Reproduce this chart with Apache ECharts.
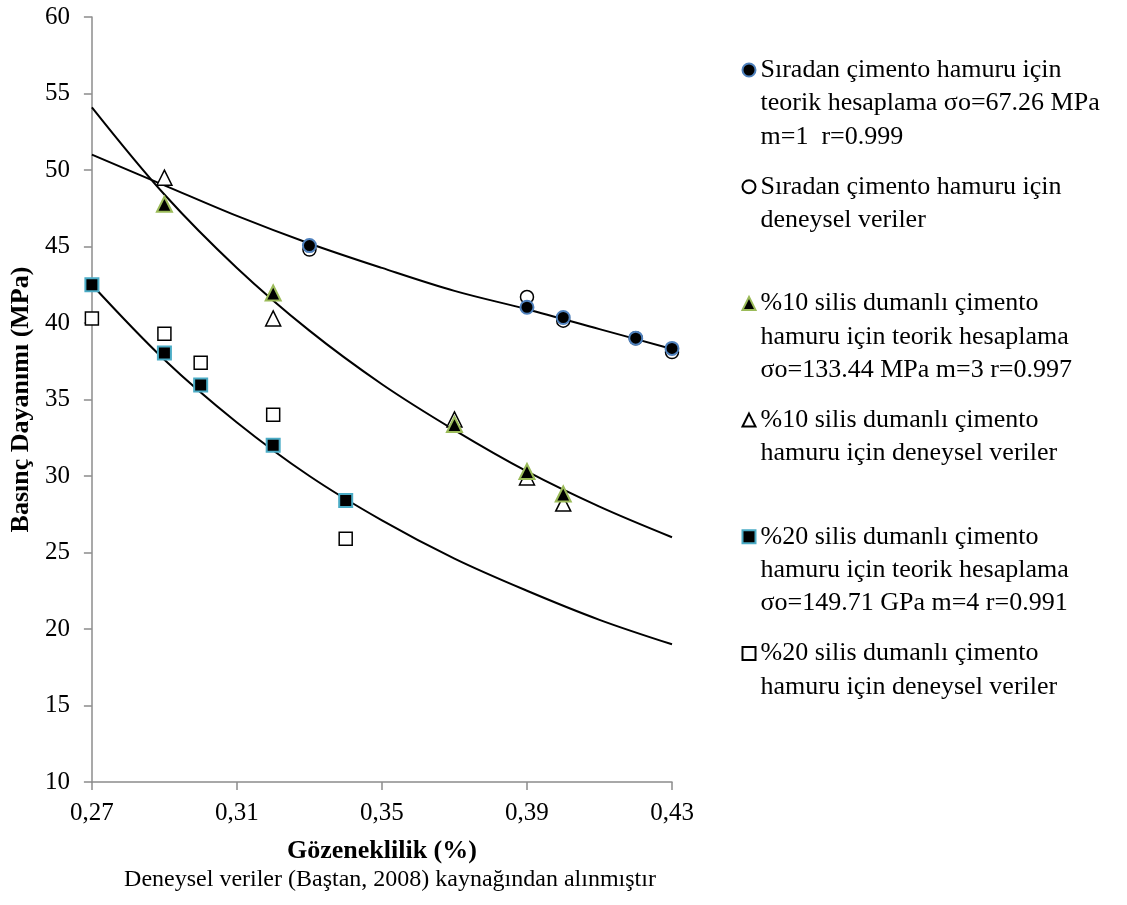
<!DOCTYPE html>
<html>
<head>
<meta charset="utf-8">
<script src="https://cdn.jsdelivr.net/npm/echarts@6/dist/echarts.min.js"></script>
<style>
  html, body { margin: 0; padding: 0; background: #fff; }
  #chart { width: 1127px; height: 905px; }
</style>
</head>
<body>
<div id="chart"></div>
<script>
// Porosity (x) tick labels and strength axis range
const xTicks = [0.27, 0.31, 0.35, 0.39, 0.43];
const yRange = [10, 60, 5];

// Plain cement paste: theoretical and experimental points
const plainX = [0.33, 0.39, 0.40, 0.42, 0.43];
const plainTheory = [45.06, 41.03, 40.36, 39.01, 38.34];
const plainExp = [44.8, 41.7, 40.15, 39.0, 38.1];

// 10% silica fume paste
const sf10X = [0.29, 0.32, 0.37, 0.39, 0.40];
const sf10Theory = [47.76, 41.96, 33.37, 30.29, 28.82];
const sf10Exp = [49.5, 40.3, 33.7, 29.9, 28.2];

// 20% silica fume paste
const sf20X = [0.27, 0.29, 0.30, 0.32, 0.34];
const sf20Theory = [42.5, 38.04, 35.94, 32.01, 28.40];
const sf20Exp = [40.3, 39.3, 37.4, 34.0, 25.9];

// Fitted curves, sampled along the porosity axis
const curveX = [0.27, 0.29, 0.31, 0.33, 0.35, 0.37, 0.39, 0.41, 0.43];
const curvePlain = [51.0, 49.0, 47.0, 45.2, 43.6, 42.1, 40.9, 39.6, 38.3];
const curveSf10 = [54.1, 48.4, 43.6, 39.5, 36.0, 33.0, 30.3, 28.0, 26.0];
const curveSf20 = [42.5, 37.6, 33.5, 30.0, 27.1, 24.6, 22.5, 20.6, 19.0];

// Legend entries (series name -> wrapped lines)
const legendLines = {
  plainTheory: ['Sıradan çimento hamuru için', 'teorik hesaplama σo=67.26 MPa', 'm=1  r=0.999'],
  plainExp: ['Sıradan çimento hamuru için', 'deneysel veriler'],
  sf10Theory: ['%10 silis dumanlı çimento', 'hamuru için teorik hesaplama', 'σo=133.44 MPa m=3 r=0.997'],
  sf10Exp: ['%10 silis dumanlı çimento', 'hamuru için deneysel veriler'],
  sf20Theory: ['%20 silis dumanlı çimento', 'hamuru için teorik hesaplama', 'σo=149.71 GPa m=4 r=0.991'],
  sf20Exp: ['%20 silis dumanlı çimento', 'hamuru için deneysel veriler']
};
const names = {};
Object.keys(legendLines).forEach(k => { names[k] = legendLines[k].join(' '); });

const FONT = "'Liberation Serif', 'Times New Roman', serif";
const AXIS_COLOR = '#8c8c8c';

function pairs(xs, ys) { return xs.map((x, i) => [x, ys[i]]); }

function points(key, xs, ys, symbol, size, fill, border, bw, z) {
  return {
    name: names[key], type: 'scatter', symbol: symbol, symbolSize: size,
    data: pairs(xs, ys), z: z,
    itemStyle: { color: fill, borderColor: border, borderWidth: bw, opacity: 1 },
    emphasis: { disabled: true }
  };
}

function curve(ys) {
  return {
    type: 'line', data: pairs(curveX, ys), smooth: 0.35, showSymbol: false,
    symbol: 'none', z: 1, silent: true,
    lineStyle: { color: '#000', width: 2 }
  };
}

// Each legend entry is padded with blank lines so the marker sits beside the first line
function legendText(name) {
  const key = Object.keys(names).find(k => names[k] === name);
  const lines = legendLines[key].slice();
  while (lines.length < 3) lines.push('');
  return '\n\n' + lines.join('\n');
}

const LH = 33.4;
const chart = echarts.init(document.getElementById('chart'), null, { renderer: 'canvas' });
chart.setOption({
  backgroundColor: '#fff',
  animation: false,
  grid: { left: 91, right: 455, top: 17, bottom: 123 },
  xAxis: {
    type: 'value', min: xTicks[0], max: xTicks[xTicks.length - 1],
    name: 'Gözeneklilik (%)', nameLocation: 'middle', nameGap: 56,
    nameTextStyle: { fontFamily: FONT, fontSize: 26, fontWeight: 'bold', color: '#000' },
    axisLine: { lineStyle: { color: AXIS_COLOR, width: 1.5 } },
    axisTick: { show: true, length: 8, customValues: xTicks, lineStyle: { color: AXIS_COLOR, width: 1.5 } },
    axisLabel: {
      customValues: xTicks, margin: 19, fontFamily: FONT, fontSize: 25, color: '#000',
      formatter: v => v.toFixed(2).replace('.', ',')
    },
    splitLine: { show: false }
  },
  yAxis: {
    type: 'value', min: yRange[0], max: yRange[1], interval: yRange[2],
    name: 'Basınç Dayanımı (MPa)', nameLocation: 'middle', nameGap: 54,
    nameTextStyle: { fontFamily: FONT, fontSize: 26, fontWeight: 'bold', color: '#000' },
    axisLine: { show: true, lineStyle: { color: AXIS_COLOR, width: 1.5 } },
    axisTick: { show: true, length: 8, lineStyle: { color: AXIS_COLOR, width: 1.5 } },
    axisLabel: { margin: 22, fontFamily: FONT, fontSize: 25, color: '#000' },
    splitLine: { show: false }
  },
  legend: {
    orient: 'vertical', left: 741.5, top: 70 - 2.5 * LH, padding: 0,
    itemGap: 116.7 - 5 * LH, itemWidth: 13, itemHeight: 13,
    selectedMode: false,
    data: [names.plainTheory, names.plainExp, names.sf10Theory, names.sf10Exp, names.sf20Theory, names.sf20Exp],
    formatter: legendText,
    textStyle: { fontFamily: FONT, fontSize: 26, lineHeight: LH, color: '#000' }
  },
  graphic: [{
    type: 'text', x: 390, y: 880,
    style: {
      text: 'Deneysel veriler (Baştan, 2008) kaynağından alınmıştır',
      fontFamily: FONT, fontSize: 24, fill: '#000', align: 'center', verticalAlign: 'middle'
    }
  }],
  series: [
    curve(curvePlain), curve(curveSf10), curve(curveSf20),
    points('plainExp', plainX, plainExp, 'circle', 13, '#fff', '#000', 1.5, 2),
    points('sf10Exp', sf10X, sf10Exp, 'triangle', 15, '#fff', '#000', 1.5, 2),
    points('sf20Exp', sf20X, sf20Exp, 'rect', 13, '#fff', '#000', 1.5, 2),
    points('plainTheory', plainX, plainTheory, 'circle', 13, '#000', '#4f81bd', 2, 3),
    points('sf10Theory', sf10X, sf10Theory, 'triangle', 15, '#000', '#9bbb59', 2, 3),
    points('sf20Theory', sf20X, sf20Theory, 'rect', 13, '#000', '#4bacc6', 2, 3)
  ]
});
</script>
</body>
</html>
